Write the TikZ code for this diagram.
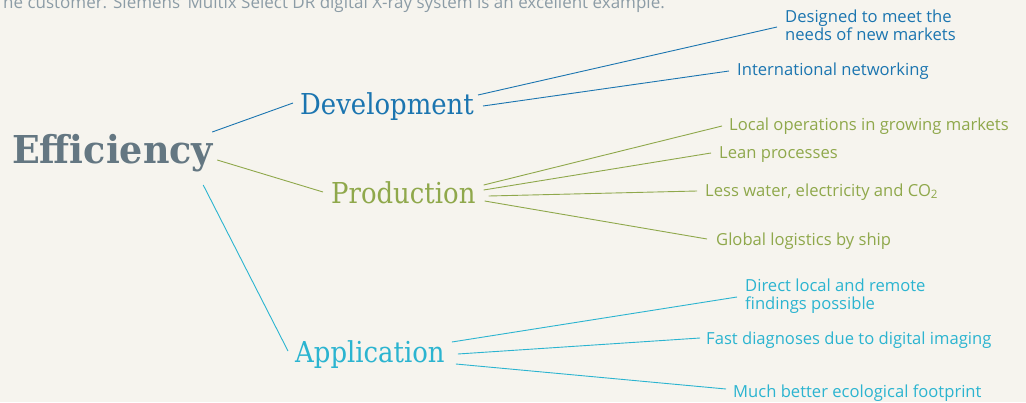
\documentclass[tikz,border=0pt]{standalone}
\usepackage{fontspec}
\setmainfont{Open Sans}
\newfontfamily\slab[FakeStretch=0.9]{DejaVu Serif}
\newfontfamily\slabwide[FakeStretch=0.95]{DejaVu Serif}
\definecolor{bgc}{HTML}{F6F4EE}
\definecolor{effc}{HTML}{647782}
\definecolor{devc}{HTML}{1B75B0}
\definecolor{proc}{HTML}{8FA84B}
\definecolor{appc}{HTML}{2BB4D0}
\definecolor{topc}{HTML}{8C9CA6}
\begin{document}
\begin{tikzpicture}[x=1pt,y=-1pt,
  leaf/.style={anchor=base west, inner sep=0pt, font=\fontsize{16.6}{18}\selectfont, align=left},
  branch/.style={anchor=base west, inner sep=0pt, font=\slab\fontsize{28.8}{34}\selectfont},
  conn/.style={line width=0.9pt}]
\useasboundingbox (0,0) rectangle (1026,402);
\fill[bgc] (0,0) rectangle (1026,402);
\clip (0,0) rectangle (1026,402);
\node[anchor=base east, inner sep=0pt, text=topc, font=\fontsize{17}{20}\selectfont] (top) at (665,8) {he customer. Siemens’ Multix Select DR digital X-ray system is an excellent example.};
\node[branch, text=effc, font=\slabwide\bfseries\fontsize{38.4}{44}\selectfont] (eff) at (12,163) {Efficiency};
\node[branch,text=devc] (dev) at (300,114) {Development};
\node[branch,text=proc] (pro) at (331,203) {Production};
\node[branch,text=appc] (app) at (295,362) {Application};
\node[leaf,text=devc] (d1) at (785,40) {Designed to meet the\\needs of new markets};
\node[leaf,text=devc] (d2) at (737,75) {International networking};
\node[leaf,text=proc] (p1) at (729,130) {Local operations in growing markets};
\node[leaf,text=proc] (p2) at (719,158) {Lean processes};
\node[leaf,text=proc] (p3) at (705,196) {Less water, electricity and CO\textsubscript{2}};
\node[leaf,text=proc] (p4) at (716,245) {Global logistics by ship};
\node[leaf,text=appc] (a1) at (745,309) {Direct local and remote\\findings possible};
\node[leaf,text=appc] (a2) at (706,344) {Fast diagnoses due to digital imaging};
\node[leaf,text=appc] (a3) at (733,397) {Much better ecological footprint};
\draw[conn,devc] ([shift={(-1,-31)}]eff.base east) -- ([shift={(-7,-11)}]dev.base west);
\draw[conn,proc] ([shift={(4,-3)}]eff.base east) -- ([shift={(-8,-11)}]pro.base west);
\draw[conn,appc] ([shift={(-10,22)}]eff.base east) -- ([shift={(-7,-11)}]app.base west);
\draw[conn,devc] ([shift={(4,-19)}]dev.base east) -- ([shift={(-8,-13)}]d1.base west);
\draw[conn,devc] ([shift={(9,-8)}]dev.base east) -- ([shift={(-8,-4)}]d2.base west);
\draw[conn,proc] ([shift={(8,-18)}]pro.base east) -- ([shift={(-7,-4)}]p1.base west);
\draw[conn,proc] ([shift={(8,-13)}]pro.base east) -- ([shift={(-8,-5)}]p2.base west);
\draw[conn,proc] ([shift={(13,-7)}]pro.base east) -- ([shift={(-8,-5)}]p3.base west);
\draw[conn,proc] ([shift={(9,-2)}]pro.base east) -- ([shift={(-9,-6)}]p4.base west);
\draw[conn,appc] ([shift={(7,-20)}]app.base east) -- ([shift={(-8,-12)}]a1.base west);
\draw[conn,appc] ([shift={(13,-8)}]app.base east) -- ([shift={(-6,-6)}]a2.base west);
\draw[conn,appc] ([shift={(11,2)}]app.base east) -- ([shift={(-7,-8)}]a3.base west);
\end{tikzpicture}
\end{document}
